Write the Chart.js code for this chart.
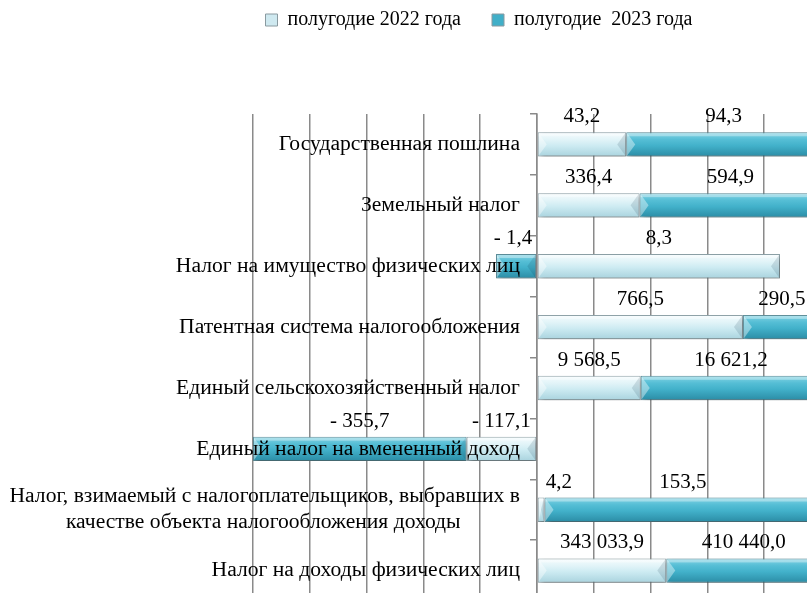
<!DOCTYPE html>
<html><head><meta charset="utf-8">
<script src="https://cdn.jsdelivr.net/npm/chart.js@4/dist/chart.umd.min.js"></script>
<style>
html,body{margin:0;padding:0;background:#fff;overflow:hidden;width:807px;height:593px}
#wrap{position:absolute;left:0;top:0;width:958px;height:617px}
</style></head><body>
<div id="wrap"><canvas id="c" width="958" height="617"></canvas></div>
<script>
const NB = '\u00A0';
const categories = [
  'Государственная пошлина',
  'Земельный налог',
  'Налог на имущество физических лиц',
  'Патентная система налогообложения',
  'Единый сельскохозяйственный налог',
  'Единый налог на вмененный доход',
  ['Налог, взимаемый с налогоплательщиков, выбравших в', 'качестве объекта налогообложения доходы' + NB.repeat(11)],
  'Налог на доходы физических лиц'
];
const seriesNames = ['полугодие 2022 года', 'полугодие  2023 года'];
const values2022 = [43.2, 336.4, 8.3, 766.5, 9568.5, -117.1, 4.2, 343033.9];
const values2023 = [94.3, 594.9, -1.4, 290.5, 16621.2, -355.7, 153.5, 410440.0];

// 100% stacked shares (of the absolute sum per category)
const share = (v, i) => v / (Math.abs(values2022[i]) + Math.abs(values2023[i])) * 100;
const pct2022 = values2022.map(share);
const pct2023 = values2023.map(share);

const FONT = "'Liberation Serif', 'Times New Roman', serif";
Chart.defaults.font.family = FONT;

const TOP = 114;
const LAYOUT_TOP = -21;
const BAR_PCT = 0.40;
const LIGHT = [[0, '#f6fcfe'], [0.3, '#e2f4f8'], [0.55, '#cdebf2'], [1, '#a9d3de']];
const DARK = [[0, '#86d4e5'], [0.3, '#55bed5'], [0.55, '#42b1ca'], [1, '#2b8ca5']];

function grad(ctx, stops) {
  const chart = ctx.chart;
  const ys = chart.scales && chart.scales.y;
  if (!ys || ctx.dataIndex === undefined || !chart.chartArea) return stops[2][1];
  const c = ys.getPixelForValue(ctx.dataIndex);
  const h = Math.abs(ys.getPixelForValue(1) - ys.getPixelForValue(0)) * BAR_PCT;
  const g = chart.ctx.createLinearGradient(0, c - h / 2, 0, c + h / 2);
  stops.forEach(([o, col]) => g.addColorStop(o, col));
  return g;
}

function fmt(v) {
  const p = Math.abs(v).toFixed(1).split('.');
  const int = p[0].replace(/\B(?=(\d{3})+(?!\d))/g, ' ');
  return (v < 0 ? '- ' : '') + int + ',' + p[1];
}

const barFx = {
  id: 'barFx',
  beforeDatasetsDraw(chart) {
    const c = chart.ctx;
    c.save();
    c.shadowColor = 'rgba(0,0,0,0.35)';
    c.shadowBlur = 5;
    c.shadowOffsetX = 2;
    c.shadowOffsetY = 3;
  },
  afterDatasetsDraw(chart) {
    const c = chart.ctx;
    c.restore();
    const ca = chart.chartArea;
    chart.data.datasets.forEach((ds, di) => {
      chart.getDatasetMeta(di).data.forEach(el => {
        const x0 = Math.min(el.x, el.base), x1 = Math.max(el.x, el.base);
        const y0 = el.y - el.height / 2, y1 = el.y + el.height / 2, ym = el.y;
        const b = Math.min(9, (x1 - x0) / 2);
        c.save();
        c.beginPath(); c.rect(ca.left, ca.top, ca.width, ca.height); c.clip();
        c.fillStyle = 'rgba(255,255,255,0.35)';
        c.fillRect(x0 + 1, y0 + 1, x1 - x0 - 2, 3);
        c.fillStyle = 'rgba(255,255,255,0.4)';
        c.beginPath(); c.moveTo(x0 + 1, y0 + 1); c.lineTo(x0 + b, ym); c.lineTo(x0 + 1, y1 - 1); c.closePath(); c.fill();
        c.fillStyle = 'rgba(0,40,60,0.13)';
        c.beginPath(); c.moveTo(x1 - 1, y0 + 1); c.lineTo(x1 - b, ym); c.lineTo(x1 - 1, y1 - 1); c.closePath(); c.fill();
        c.restore();
      });
    });
    c.save();
    c.font = '21px ' + FONT;
    c.fillStyle = '#000';
    c.textAlign = 'center';
    c.textBaseline = 'alphabetic';
    chart.data.datasets.forEach((ds, di) => {
      chart.getDatasetMeta(di).data.forEach((el, i) => {
        const v = ds.raw[i];
        const t = fmt(v);
        const w = c.measureText(t).width;
        let cx = (el.x + el.base) / 2;
        if (v >= 0) cx = Math.max(cx, el.base + w / 2 + 8);
        else cx = Math.min(cx, el.base - w / 2 - 4);
        c.fillText(t, cx, el.y - el.height / 2 - 10);
      });
    });
    c.restore();
  }
};

new Chart(document.getElementById('c'), {
  type: 'bar',
  data: {
    labels: categories,
    datasets: [
      { label: seriesNames[0], data: pct2022, raw: values2022, xAxisID: 'x', yAxisID: 'y',
        backgroundColor: c => grad(c, LIGHT), borderColor: '#8ea2a8', borderWidth: 1,
        borderSkipped: false, barPercentage: BAR_PCT, categoryPercentage: 1 },
      { label: seriesNames[1], data: pct2023, raw: values2023, xAxisID: 'x', yAxisID: 'y',
        backgroundColor: c => grad(c, DARK), borderColor: '#5d8e9a', borderWidth: 1,
        borderSkipped: false, barPercentage: BAR_PCT, categoryPercentage: 1 }
    ]
  },
  options: {
    indexAxis: 'y',
    responsive: false,
    animation: false,
    events: [],
    layout: { padding: { top: LAYOUT_TOP, left: 0, right: 0, bottom: 0 } },
    plugins: {
      tooltip: { enabled: false },
      legend: {
        position: 'top',
        align: 'center',
        labels: {
          boxWidth: 12, boxHeight: 12, padding: 31, color: '#000',
          font: { size: 20, family: FONT },
          generateLabels: chart => chart.data.datasets.map((ds, i) => ({
            text: ds.label,
            fillStyle: i === 0 ? '#cfe9f0' : '#41afc8',
            strokeStyle: '#8a9aa0', lineWidth: 1, hidden: false, datasetIndex: i, fontColor: '#000'
          }))
        }
      }
    },
    scales: {
      x: {
        type: 'linear', position: 'top', min: -100, max: 100, stacked: true,
        ticks: { display: false, stepSize: 20 },
        grid: { color: '#8a8a8a', lineWidth: 1.5, drawTicks: false },
        border: { display: false },
        afterFit: s => { s.height = TOP - (LAYOUT_TOP + (s.chart.legend ? s.chart.legend.height : 0)); }
      },
      y: {
        type: 'category', position: { x: 0 }, stacked: true, offset: true,
        ticks: { display: false },
        grid: { offset: true, drawOnChartArea: false, drawTicks: true, tickLength: 6, color: '#8a8a8a', lineWidth: 1.5 },
        border: { display: true, color: '#8a8a8a', width: 1.5 }
      },
      yLabels: {
        type: 'category', axis: 'y', position: { x: -6 }, offset: true,
        grid: { display: false }, border: { display: false },
        ticks: { autoSkip: false, z: 1, color: '#000', font: { size: 21.6, family: FONT } }
      },
      padL: {
        type: 'linear', axis: 'y', position: 'left',
        ticks: { display: false }, grid: { display: false }, border: { display: false },
        afterFit: s => { s.width = 253; }
      },
      padR: {
        type: 'linear', axis: 'y', position: 'right',
        ticks: { display: false }, grid: { display: false }, border: { display: false },
        afterFit: s => { s.width = 958 - 821; }
      }
    }
  },
  plugins: [barFx]
});
</script>
</body></html>
